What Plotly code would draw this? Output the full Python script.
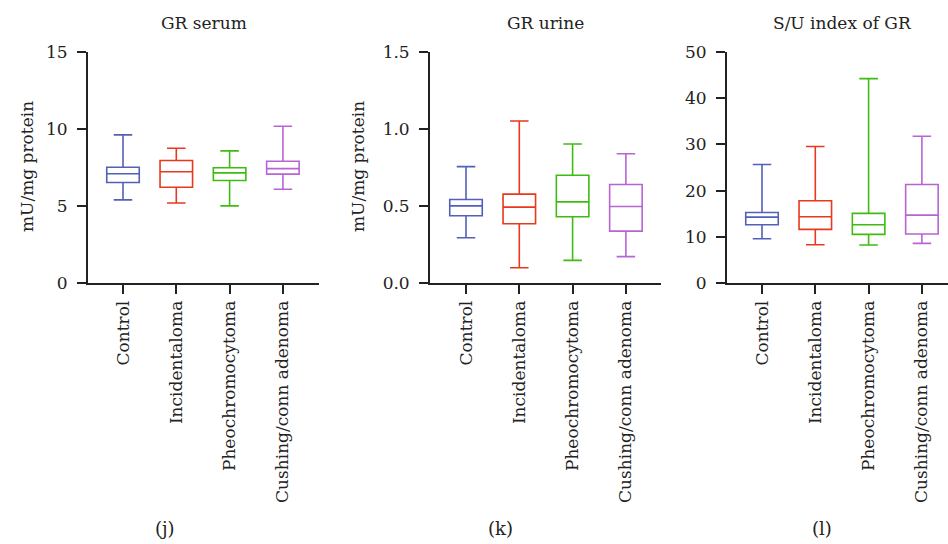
import plotly.graph_objects as go

W, H = 948, 544

categories = ["Control", "Incidentaloma", "Pheochromocytoma", "Cushing/conn adenoma"]
colors = ["#5360B8", "#E8391F", "#3FBB12", "#B864D4"]

# GR serum
serum_upper = [9.62, 8.75, 8.58, 10.18]
serum_q3 = [7.52, 7.95, 7.48, 7.91]
serum_median = [7.09, 7.22, 7.15, 7.43]
serum_q1 = [6.53, 6.22, 6.66, 7.07]
serum_lower = [5.40, 5.19, 5.01, 6.09]

# GR urine
urine_upper = [0.756, 1.052, 0.903, 0.839]
urine_q3 = [0.542, 0.577, 0.700, 0.640]
urine_median = [0.501, 0.493, 0.527, 0.497]
urine_q1 = [0.437, 0.385, 0.430, 0.337]
urine_lower = [0.294, 0.099, 0.147, 0.171]

# S/U index of GR
index_upper = [25.65, 29.54, 44.24, 31.77]
index_q3 = [15.27, 17.80, 15.06, 21.33]
index_median = [14.26, 14.34, 12.61, 14.70]
index_q1 = [12.61, 11.60, 10.52, 10.59]
index_lower = [9.58, 8.29, 8.21, 8.57]

titles = ["GR serum", "GR urine", "S/U index of GR"]
panel_labels = ["(j)", "(k)", "(l)"]
y_title = "mU/mg protein"
y_ranges = [[0, 15], [0, 1.5], [0, 50]]
y_dticks = [5, 0.5, 10]
y_formats = ["d", ".1f", "d"]

panels = [
    (serum_lower, serum_q1, serum_median, serum_q3, serum_upper),
    (urine_lower, urine_q1, urine_median, urine_q3, urine_upper),
    (index_lower, index_q1, index_median, index_q3, index_upper),
]

FONT = "DejaVu Serif"
TXT = "#222222"

# layout geometry in pixels
axis_left_px = [88, 430, 727]
cat0_px = [123, 466, 762]
unit_px = 53.3
axis_w_px = 231
y_top_px, y_bot_px = 52, 283

fig = go.Figure()
layout = dict(
    width=W, height=H,
    margin=dict(l=0, r=0, t=0, b=0),
    paper_bgcolor="white", plot_bgcolor="white",
    showlegend=False,
    font=dict(family=FONT, color=TXT, size=17),
    boxmode="overlay",
)
annotations = []

for p in range(3):
    lo, q1, med, q3, hi = panels[p]
    xa = "x" if p == 0 else f"x{p+1}"
    ya = "y" if p == 0 else f"y{p+1}"
    for i, c in enumerate(categories):
        fig.add_trace(go.Box(
            x=[c], lowerfence=[lo[i]], q1=[q1[i]], median=[med[i]],
            q3=[q3[i]], upperfence=[hi[i]],
            xaxis=xa, yaxis=ya,
            line=dict(color=colors[i], width=1.6),
            fillcolor="rgba(0,0,0,0)",
            width=0.61, whiskerwidth=0.57,
            boxpoints=False, hoverinfo="skip",
        ))
    left = axis_left_px[p]
    right = min(left + axis_w_px, W)
    r0 = (left - cat0_px[p]) / unit_px
    r1 = (right - cat0_px[p]) / unit_px
    xkey = "xaxis" if p == 0 else f"xaxis{p+1}"
    ykey = "yaxis" if p == 0 else f"yaxis{p+1}"
    layout[xkey] = dict(
        domain=[left / W, right / W], anchor=ya,
        type="category", categoryorder="array", categoryarray=categories,
        range=[r0, r1], showgrid=False, zeroline=False,
        showline=True, linecolor="#222222", linewidth=1.8,
        ticks="outside", ticklen=9, tickwidth=1.6, tickcolor="#222222",
        tickangle=-90, tickfont=dict(family=FONT, size=17, color=TXT),
        automargin=False,
    )
    layout[ykey] = dict(
        domain=[1 - y_bot_px / H, 1 - y_top_px / H], anchor=xa,
        range=y_ranges[p], dtick=y_dticks[p], tick0=0, tickformat=y_formats[p],
        showgrid=False, zeroline=False,
        showline=True, linecolor="#222222", linewidth=1.8,
        ticks="outside", ticklen=9, tickwidth=1.6, tickcolor="#222222",
        ticklabelstandoff=6,
        tickfont=dict(family=FONT, size=17, color=TXT),
        automargin=False,
    )
    cx = (left + left + axis_w_px) / 2
    annotations.append(dict(
        text=titles[p], x=cx / W, y=1 - 23 / H, xref="paper", yref="paper",
        xanchor="center", yanchor="middle", showarrow=False,
        font=dict(family=FONT, size=17, color=TXT),
    ))
    label_x = [165, 500, 822][p]
    annotations.append(dict(
        text=panel_labels[p], x=label_x / W, y=1 - 528 / H, xref="paper", yref="paper",
        xanchor="center", yanchor="middle", showarrow=False,
        font=dict(family=FONT, size=18, color=TXT),
    ))

for p, xc in enumerate([27, 358]):
    annotations.append(dict(
        text=y_title, x=xc / W, y=1 - 167 / H, xref="paper", yref="paper",
        xanchor="center", yanchor="middle", showarrow=False, textangle=-90,
        font=dict(family=FONT, size=17, color=TXT),
    ))

layout["annotations"] = annotations
fig.update_layout(**layout)
fig.write_html("out.html", config={"displayModeBar": False},
               post_script="document.body.style.margin='0px';")
